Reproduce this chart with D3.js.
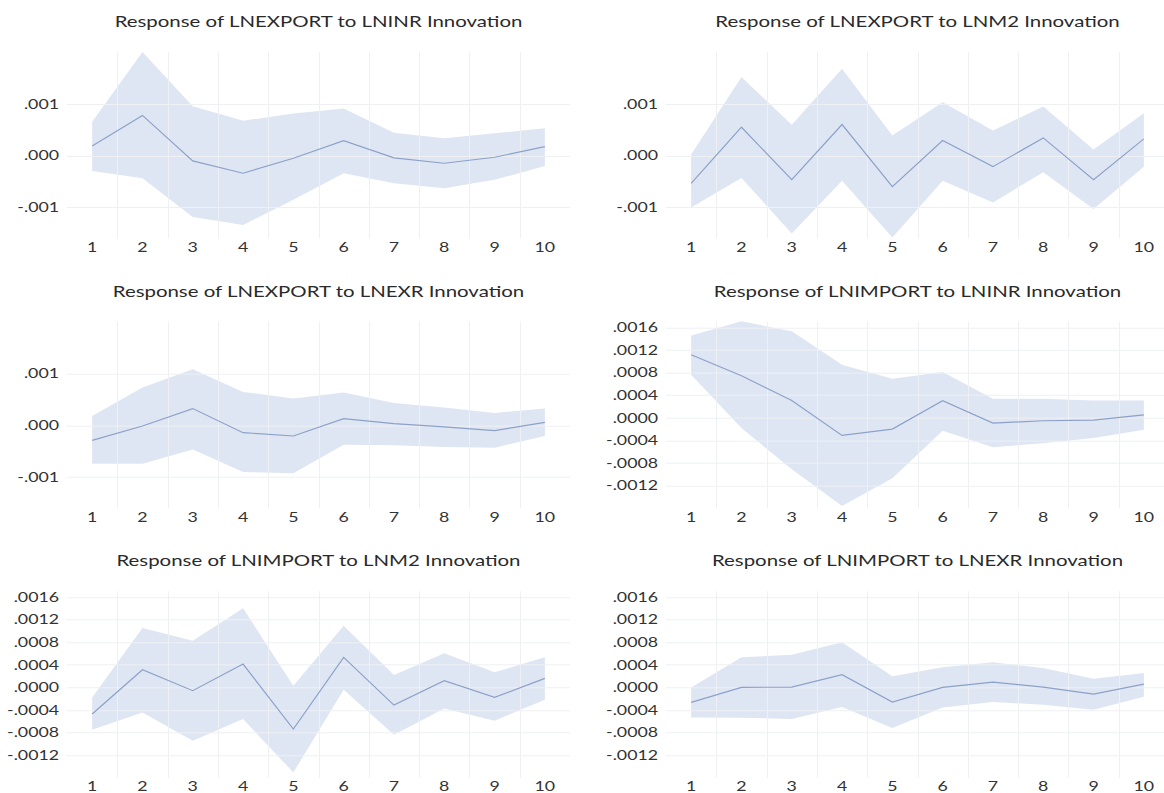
<!DOCTYPE html>
<html>
<head>
<meta charset="utf-8">
<script src="https://cdn.jsdelivr.net/npm/d3@7"></script>
<style>
  body { margin: 0; background: #ffffff; }
  svg { display: block; }
</style>
</head>
<body>
<svg id="chart" width="1164" height="793"></svg>
<script>
// Impulse-response horizons (periods after the shock)
const horizons = [1, 2, 3, 4, 5, 6, 7, 8, 9, 10];

// Y tick values for the two scale families
const ticksWide = [-0.001, 0, 0.001];
const ticksFine = [-0.0012, -0.0008, -0.0004, 0, 0.0004, 0.0008, 0.0012, 0.0016];
const domainWide = [-0.0016, 0.002];
const domainFine = [-0.0016, 0.0017];

const titles = [
  "Response of LNEXPORT to LNINR Innovation",
  "Response of LNEXPORT to LNM2 Innovation",
  "Response of LNEXPORT to LNEXR Innovation",
  "Response of LNIMPORT to LNINR Innovation",
  "Response of LNIMPORT to LNM2 Innovation",
  "Response of LNIMPORT to LNEXR Innovation"
];

// LNEXPORT <- LNINR
const exportInr      = [0.000186, 0.000776, -0.000103, -0.00034, -0.00005, 0.000288, -0.000045, -0.000147, -0.000032, 0.000173];
const exportInrUpper = [0.000654, 0.002, 0.000955, 0.000673, 0.000814, 0.00091, 0.000442, 0.000333, 0.00043, 0.000526];
const exportInrLower = [-0.000295, -0.000436, -0.001186, -0.00134, -0.000853, -0.00034, -0.000532, -0.000628, -0.000468, -0.000199];

// LNEXPORT <- LNM2
const exportM2      = [-0.000535, 0.000548, -0.000465, 0.0006, -0.0006, 0.00029, -0.000213, 0.000342, -0.000465, 0.000323];
const exportM2Upper = [0.00002, 0.001516, 0.000594, 0.001677, 0.000387, 0.001032, 0.000484, 0.000948, 0.000116, 0.000819];
const exportM2Lower = [-0.001, -0.000432, -0.001503, -0.000484, -0.00158, -0.000484, -0.000903, -0.000323, -0.001032, -0.000213];

// LNEXPORT <- LNEXR
const exportExr      = [-0.00029, -0.000013, 0.000323, -0.000142, -0.000206, 0.000129, 0.000032, -0.000032, -0.000103, 0.000058];
const exportExrUpper = [0.00018, 0.000729, 0.001084, 0.000645, 0.000516, 0.000632, 0.000432, 0.000342, 0.000239, 0.000323];
const exportExrLower = [-0.000742, -0.000742, -0.000465, -0.000903, -0.000923, -0.000374, -0.000387, -0.000419, -0.000432, -0.000206];

// LNIMPORT <- LNINR
const importInr      = [0.001116, 0.000744, 0.000307, -0.000313, -0.000201, 0.000301, -0.000094, -0.000053, -0.000041, 0.000053];
const importInrUpper = [0.001458, 0.001706, 0.001529, 0.000939, 0.000691, 0.000809, 0.000337, 0.000337, 0.000307, 0.000307];
const importInrLower = [0.000762, -0.000183, -0.000909, -0.001559, -0.001069, -0.00023, -0.00052, -0.000449, -0.00036, -0.000213];

// LNIMPORT <- LNM2
const importM2      = [-0.000472, 0.000313, -0.000059, 0.000413, -0.000738, 0.000531, -0.000313, 0.000118, -0.000177, 0.000159];
const importM2Upper = [-0.000177, 0.001051, 0.000827, 0.001399, 0.00003, 0.001092, 0.000218, 0.000602, 0.000266, 0.000531];
const importM2Lower = [-0.00075, -0.000443, -0.000945, -0.000561, -0.001506, -0.000041, -0.000838, -0.000372, -0.00059, -0.000218];

// LNIMPORT <- LNEXR
const importExr      = [-0.000266, 0.0, 0.000005, 0.000224, -0.00026, 0.0, 0.000094, 0.000006, -0.000118, 0.000059];
const importExrUpper = [0.0, 0.000531, 0.000578, 0.000797, 0.000195, 0.000354, 0.000443, 0.000342, 0.000153, 0.000254];
const importExrLower = [-0.000531, -0.000537, -0.000561, -0.000348, -0.00072, -0.000354, -0.00026, -0.000307, -0.000396, -0.000165];

const panels = [
  { title: titles[0], mid: exportInr, hi: exportInrUpper, lo: exportInrLower, ticks: ticksWide, domain: domainWide, digits: 3 },
  { title: titles[1], mid: exportM2,  hi: exportM2Upper,  lo: exportM2Lower,  ticks: ticksWide, domain: domainWide, digits: 3 },
  { title: titles[2], mid: exportExr, hi: exportExrUpper, lo: exportExrLower, ticks: ticksWide, domain: domainWide, digits: 3 },
  { title: titles[3], mid: importInr, hi: importInrUpper, lo: importInrLower, ticks: ticksFine, domain: domainFine, digits: 4 },
  { title: titles[4], mid: importM2,  hi: importM2Upper,  lo: importM2Lower,  ticks: ticksFine, domain: domainFine, digits: 4 },
  { title: titles[5], mid: importExr, hi: importExrUpper, lo: importExrLower, ticks: ticksFine, domain: domainFine, digits: 4 }
];

// Layout
const colX = [67, 666];
const rowY = [52, 321.7, 591.3];
const plotW = 503;
const plotH = 186.5;

const FONT = "Lato, 'Open Sans', sans-serif";
const TEXT_COLOR = "#333333";
const BAND_FILL = "#dfe6f3";
const LINE_COLOR = "#8ca1c9";
const GRID_COLOR = "#eef0f3";
const TITLE_STRETCH = 1.36;
const TICK_STRETCH = 1.42;

const svg = d3.select("#chart");

// Widen glyphs horizontally while keeping them as real text
function stretch(sel, k) {
  sel.each(function () {
    const w = this.getComputedTextLength();
    d3.select(this).attr("textLength", w * k).attr("lengthAdjust", "spacingAndGlyphs");
  });
}

function fmt(digits) {
  return v => {
    const s = Math.abs(v).toFixed(digits).replace(/^0/, "");
    return (v < 0 ? "-" : "") + s;
  };
}

panels.forEach((p, i) => {
  const col = i % 2, row = Math.floor(i / 2);
  const g = svg.append("g").attr("transform", `translate(${colX[col]},${rowY[row]})`);

  const x = d3.scaleBand().domain(horizons).range([0, plotW]).paddingInner(0).paddingOuter(0);
  const y = d3.scaleLinear().domain(p.domain).range([plotH, 0]);
  const cx = h => x(h) + x.bandwidth() / 2;

  const rows = horizons.map((h, k) => ({ h, mid: p.mid[k], hi: p.hi[k], lo: p.lo[k] }));

  // Confidence band
  g.append("path")
    .datum(rows)
    .attr("fill", BAND_FILL)
    .attr("d", d3.area().x(d => cx(d.h)).y0(d => y(d.lo)).y1(d => y(d.hi)));

  // Grid
  const grid = g.append("g").attr("stroke", GRID_COLOR).attr("stroke-width", 1);
  grid.selectAll("line.h")
    .data(p.ticks)
    .join("line")
    .attr("class", "h")
    .attr("x1", 0).attr("x2", plotW)
    .attr("y1", d => Math.round(y(d)) + 0.5).attr("y2", d => Math.round(y(d)) + 0.5);
  grid.selectAll("line.v")
    .data(horizons.slice(1))
    .join("line")
    .attr("class", "v")
    .attr("x1", d => Math.round(x(d)) + 0.5).attr("x2", d => Math.round(x(d)) + 0.5)
    .attr("y1", 0).attr("y2", plotH);

  // Impulse response line
  g.append("path")
    .datum(rows)
    .attr("fill", "none")
    .attr("stroke", LINE_COLOR)
    .attr("stroke-width", 1.2)
    .attr("d", d3.line().x(d => cx(d.h)).y(d => y(d.mid)));

  // Y axis labels
  const yAxis = g.append("g")
    .call(d3.axisLeft(y).tickValues(p.ticks).tickFormat(fmt(p.digits)).tickSize(0).tickPadding(8));
  yAxis.select(".domain").remove();
  yAxis.selectAll("text")
    .attr("font-family", FONT).attr("font-size", 12.5).attr("fill", TEXT_COLOR).attr("dy", "0.35em");
  stretch(yAxis.selectAll("text"), TICK_STRETCH);

  // X axis labels
  const xAxis = g.append("g")
    .attr("transform", `translate(0,${plotH})`)
    .call(d3.axisBottom(x).tickSize(0).tickPadding(0));
  xAxis.select(".domain").remove();
  xAxis.selectAll("text")
    .attr("font-family", FONT).attr("font-size", 12.5).attr("fill", TEXT_COLOR)
    .attr("dy", null).attr("y", 200 - plotH);
  stretch(xAxis.selectAll("text"), TICK_STRETCH);

  // Title
  const t = g.append("text")
    .attr("x", plotW / 2)
    .attr("y", -25)
    .attr("text-anchor", "middle")
    .attr("font-family", FONT)
    .attr("font-size", 15)
    .attr("fill", "#2a2a2a")
    .text(p.title);
  stretch(t, TITLE_STRETCH);
});
</script>
</body>
</html>
